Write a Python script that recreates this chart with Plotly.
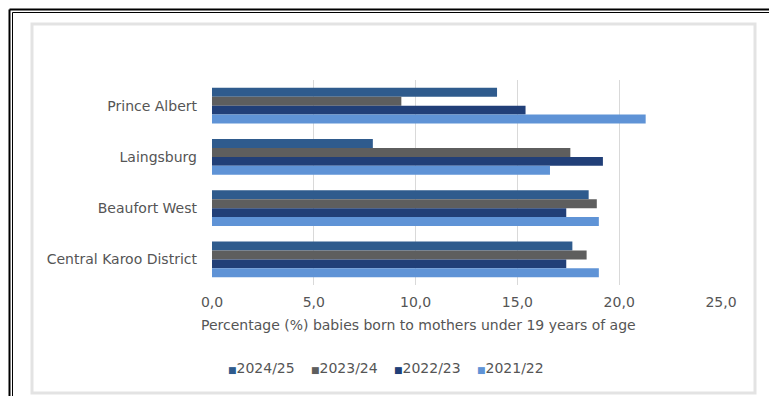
import plotly.graph_objects as go

categories = ["Prince Albert", "Laingsburg", "Beaufort West", "Central Karoo District"]
series_names = ["2024/25", "2023/24", "2022/23", "2021/22"]
v_2024_25 = [14.0, 7.9, 18.5, 17.7]
v_2023_24 = [9.3, 17.6, 18.9, 18.4]
v_2022_23 = [15.4, 19.2, 17.4, 17.4]
v_2021_22 = [21.3, 16.6, 19.0, 19.0]
values = [v_2024_25, v_2023_24, v_2022_23, v_2021_22]
colors = ["#2f5b8d", "#5e5e5e", "#213f78", "#5f93d6"]
x_ticks = [0, 5, 10, 15, 20, 25]
x_title = "Percentage (%) babies born to mothers under 19 years of age"

W, H = 769, 396
ml, mr, mt, mb = 212, 48, 80, 111
pw, ph = W - ml - mr, H - mt - mb

def px(x):
    return (x - ml) / pw

def py(y):
    return 1 - (y - mt) / ph

fig = go.Figure()
for name, vals, col in zip(series_names, values, colors):
    fig.add_trace(go.Bar(
        y=categories, x=vals, name=name, orientation="h",
        marker=dict(color=col, line=dict(width=0)),
        showlegend=False,
    ))

font_family = "'DejaVu Sans', Verdana, sans-serif"
txt_col = "#555555"
fs = 14
fig.update_layout(
    width=W, height=H,
    margin=dict(l=ml, r=mr, t=mt, b=mb),
    barmode="group", bargap=0.3, bargroupgap=0,
    paper_bgcolor="white", plot_bgcolor="white",
    separators=", ",
    font=dict(family=font_family, size=fs, color=txt_col),
    xaxis=dict(
        range=[0, 25], tickvals=x_ticks, tickformat=".1f",
        showgrid=True, gridcolor="#d9d9d9", gridwidth=1,
        zeroline=False, showline=False, ticks="",
        ticklabelstandoff=7,
        tickfont=dict(size=fs, color=txt_col),
    ),
    yaxis=dict(
        autorange="reversed", showgrid=False, zeroline=False,
        showline=False, ticks="", ticklabelstandoff=14,
        tickfont=dict(size=fs, color=txt_col),
    ),
    showlegend=False,
)

# axis title
fig.add_annotation(
    xref="paper", yref="paper", x=px(418), y=py(325),
    xanchor="center", yanchor="middle", showarrow=False,
    text=x_title, font=dict(size=fs, color=txt_col),
)

# legend drawn as text entries with small square markers
legend_x = [226, 309, 392, 475]
for name, col, lx in zip(series_names, colors, legend_x):
    fig.add_annotation(
        xref="paper", yref="paper", x=px(lx), y=py(368),
        xanchor="left", yanchor="middle", showarrow=False,
        text=f"<span style='color:{col};font-size:9px'>■</span>{name}",
        font=dict(size=fs, color=txt_col),
    )

fig.update_layout(shapes=[
    dict(type="rect", xref="paper", yref="paper",
         x0=px(32), x1=px(755), y0=py(393), y1=py(24),
         line=dict(color="#e3e3e3", width=3), layer="below"),
    dict(type="line", xref="paper", yref="paper",
         x0=px(9.5), x1=px(769), y0=py(9.5), y1=py(9.5),
         line=dict(color="black", width=2)),
    dict(type="line", xref="paper", yref="paper",
         x0=px(12.5), x1=px(769), y0=py(12.5), y1=py(12.5),
         line=dict(color="black", width=1)),
    dict(type="line", xref="paper", yref="paper",
         x0=px(9.5), x1=px(9.5), y0=py(9.5), y1=py(396),
         line=dict(color="black", width=2)),
    dict(type="line", xref="paper", yref="paper",
         x0=px(12.5), x1=px(12.5), y0=py(12.5), y1=py(396),
         line=dict(color="black", width=1)),
])

fig.write_html("out.html")
